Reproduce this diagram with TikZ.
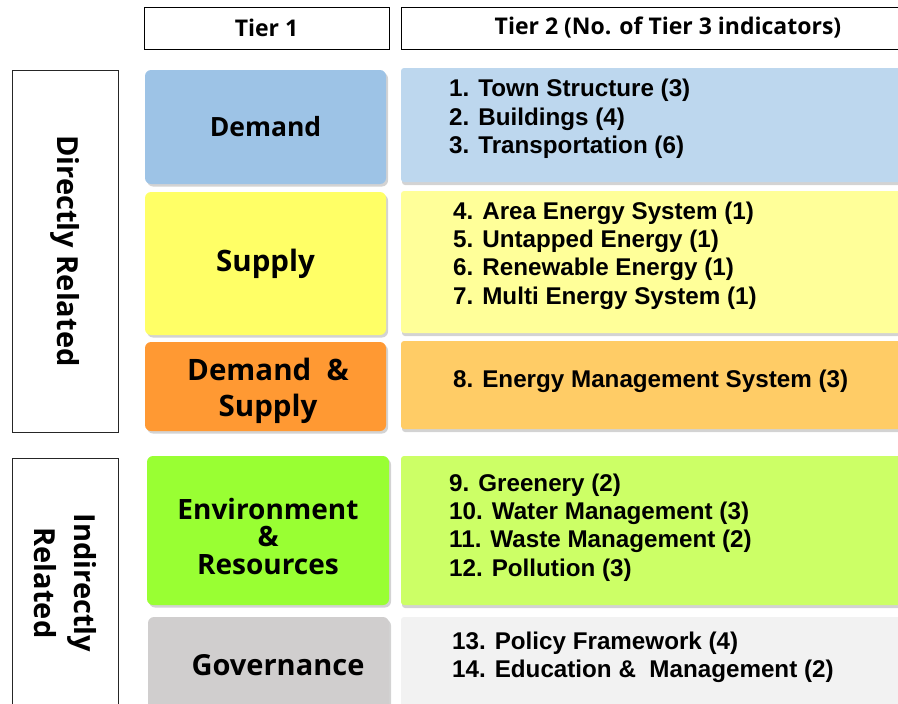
\documentclass[tikz,border=0pt]{standalone}
\usepackage{fontspec}
\setmainfont{Liberation Sans}
\newfontfamily\headfont{Open Sans}
\usetikzlibrary{shadows}

\definecolor{demandL}{HTML}{9DC3E6}
\definecolor{demandR}{HTML}{BDD7EE}
\definecolor{supplyL}{HTML}{FFFF66}
\definecolor{supplyR}{HTML}{FFFF99}
\definecolor{bothL}{HTML}{FF9933}
\definecolor{bothR}{HTML}{FFCC66}
\definecolor{envL}{HTML}{99FF33}
\definecolor{envR}{HTML}{CCFF66}
\definecolor{govL}{HTML}{D0CECE}
\definecolor{govR}{HTML}{F2F2F2}

\tikzset{
  hdr/.style={draw=black, line width=0.8pt, fill=white, inner sep=0pt,
    font=\headfont\bfseries\fontsize{23}{27}\selectfont},
  grp/.style={draw=black!85, line width=0.8pt, fill=white, inner sep=0pt,
    rotate=-90, align=center, font=\headfont\bfseries\fontsize{29}{40}\selectfont},
  tierone/.style={rounded corners=6pt, inner sep=0pt, align=center,
    drop shadow={shadow xshift=2pt, shadow yshift=-2.5pt, opacity=0.35},
    font=\headfont\bfseries\fontsize{29}{36}\selectfont},
  tiertwo/.style={rounded corners=3pt, inner sep=0pt, minimum width=504pt,
    drop shadow={shadow xshift=1pt, shadow yshift=-3pt, opacity=0.35}},
  items/.style={anchor=west, align=left, inner sep=0pt,
    font=\bfseries\fontsize{24.2}{28.3}\selectfont},
  boxlabel/.style={inner sep=0pt, align=center},
}

\begin{document}
\begin{tikzpicture}[x=1pt, y=-1pt]
\useasboundingbox (0,0) rectangle (898,704);
\clip (0,0) rectangle (898,704);

% Column headers
\node[hdr, minimum width=245pt, minimum height=42pt] (head1) at (266.5,28) {Tier 1};
\node[hdr, minimum width=534pt, minimum height=42pt] (head2) at (668,28) {Tier 2 (No. of Tier 3 indicators)};

% Group boxes
\node[grp, minimum width=362pt, minimum height=106pt] (direct) at (65,251) {Directly Related};
\node[grp, minimum width=250pt, minimum height=106pt] (indirect) at (65,583) {Indirectly\\Related};

% Tier 1
\node[tierone, fill=demandL, minimum width=241pt, minimum height=114pt] (demand) at (265.5,127) {\fontsize{26.5}{32}\selectfont Demand};
\node[tierone, fill=supplyL, minimum width=241pt, minimum height=143pt] (supply) at (265.5,263.5) {\fontsize{29.5}{34}\selectfont Supply};
\node[tierone, fill=bothL, minimum width=241pt, minimum height=89pt] (both) at (265.5,386.5) {};
\node[tierone, fill=envL, minimum width=242pt, minimum height=149pt] (env) at (268,530.5) {};
\node[tierone, fill=govL, minimum width=241pt, minimum height=97pt] (gov) at (268.5,665.5) {\hspace*{19pt}Governance};
\node[boxlabel, font=\headfont\bfseries\fontsize{29.5}{36}\selectfont] (both-label) at (268,391) {Demand~~\&\\Supply};
\node[boxlabel, font=\headfont\bfseries\fontsize{28}{27.5}\selectfont] (env-label) at (268,536) {Environment\\\&\\Resources};

% Tier 2
\node[tiertwo, fill=demandR, minimum height=114pt] (demand-t2) at (653,125) {};
\node[tiertwo, fill=supplyR, minimum height=142pt] (supply-t2) at (653,262) {};
\node[tiertwo, fill=bothR, minimum height=88pt] (both-t2) at (653,385) {};
\node[tiertwo, fill=envR, minimum height=149pt] (env-t2) at (653,530.5) {};
\node[tiertwo, fill=govR, minimum height=97pt] (gov-t2) at (653,665.5) {};

\node[items] (demand-list) at (449,119) {1. Town Structure (3)\\2. Buildings (4)\\3. Transportation (6)};
\node[items] (supply-list) at (453,255.5) {4. Area Energy System (1)\\5. Untapped Energy (1)\\6. Renewable Energy (1)\\7. Multi Energy System (1)};
\node[items] (both-list) at (453,381) {8. Energy Management System (3)};
\node[items] (env-list) at (449,527.5) {9. Greenery (2)\\10. Water Management (3)\\11. Waste Management (2)\\12. Pollution (3)};
\node[items] (gov-list) at (452,657) {13. Policy Framework (4)\\14. Education \&~~Management (2)};

\end{tikzpicture}
\end{document}
